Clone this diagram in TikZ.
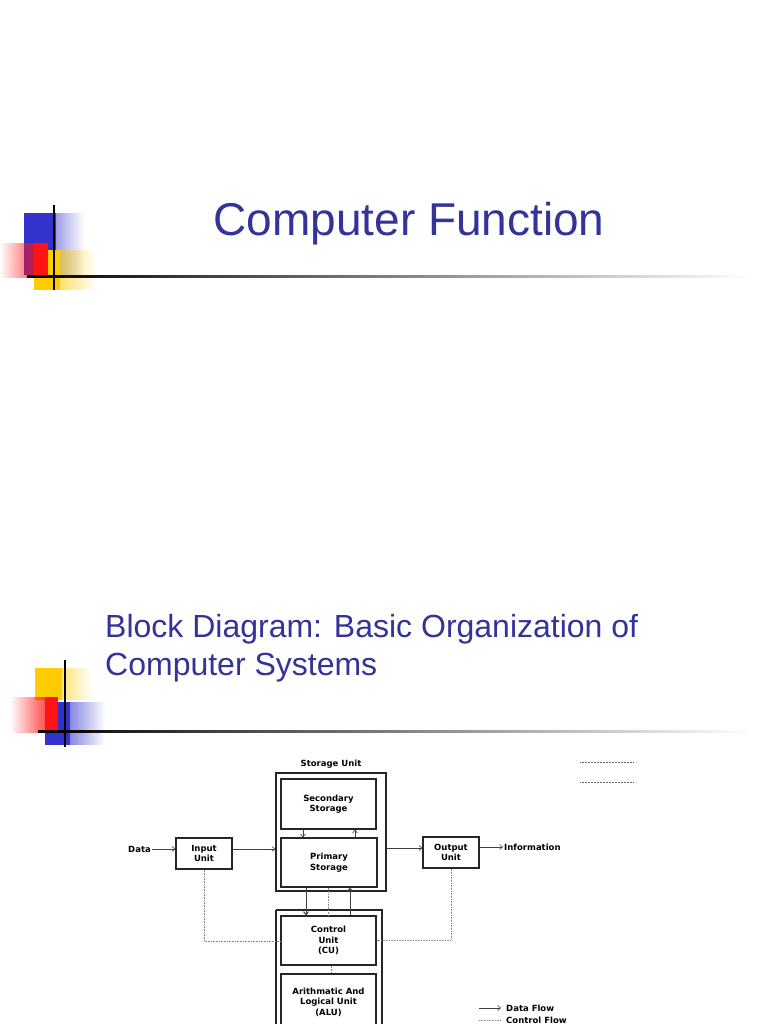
\documentclass[tikz,border=0pt]{standalone}
\usepackage{fontspec}
\setmainfont{Liberation Sans}
\newfontfamily\djvfont{DejaVu Sans}
\usetikzlibrary{arrows.meta,fadings}
\definecolor{ttl}{RGB}{51,51,153}
\definecolor{sqb}{RGB}{51,51,204}
\definecolor{sqr}{RGB}{255,20,20}
\definecolor{sqy}{RGB}{255,204,0}
\begin{document}
\begin{tikzpicture}[x=1pt,y=-1pt,
  blk/.style={draw=black!85,line width=1.2pt,align=center,font=\djvfont\bfseries\fontsize{8.5}{10.5}\selectfont,inner sep=0pt},
  lbl/.style={font=\djvfont\bfseries\fontsize{8.5}{10}\selectfont,inner sep=1pt},
  df/.style={draw=black!75,line width=0.6pt,-{Straight Barb[length=3pt,width=5pt]}},
  cf/.style={draw=black!45,line width=0.6pt,densely dotted}]
\useasboundingbox (0,0) rectangle (768,1024);
\fill[white] (0,0) rectangle (768,1024);
% slide 1 decoration
\fill[sqb,path fading=east] (24,213) rectangle (84,275);
\fill[sqb] (24,213) rectangle (56,275);
\fill[sqy,path fading=east] (34,250) rectangle (96,290);
\fill[sqy] (34,250) rectangle (60,290);
\fill[sqr,path fading=west] (0,243) rectangle (48,278);
\fill[sqr] (34,243) rectangle (48,278);
\fill[black,path fading=east] (27,274.5) rectangle (750,278);
\draw[black,line width=1.2pt] (54,205) -- (54,290);
\node[text=ttl,font=\fontsize{46}{50}\selectfont,anchor=base] (t1) at (409,236) {Computer Function};
% slide 2 decoration
\fill[sqy,path fading=east] (35,668) rectangle (92,700);
\fill[sqy] (35,668) rectangle (62,700);
\fill[sqb,path fading=east] (45,702) rectangle (105,745);
\fill[sqb] (45,702) rectangle (70,745);
\fill[sqr,path fading=west] (10,697) rectangle (58,733);
\fill[sqr] (45,697) rectangle (58,733);
\fill[black,path fading=east] (38,729.5) rectangle (750,733);
\draw[black,line width=1.2pt] (65,660) -- (65,747);
\node[text=ttl,font=\fontsize{32}{38}\selectfont,anchor=base west,align=left,inner sep=0pt] (t2) at (105,675) {Block Diagram: Basic Organization of\\Computer Systems};
% diagram
\node[lbl] (sul) at (331,764) {Storage Unit};
\node[blk,minimum width=110,minimum height=118] (su) at (331,832) {};
\node[blk,minimum width=95,minimum height=50] (sec) at (328.5,804) {Secondary\\Storage};
\node[blk,minimum width=96,minimum height=49] (pri) at (329,862.5) {Primary\\Storage};
\node[blk,minimum width=56,minimum height=31] (in) at (204,853.5) {Input\\Unit};
\node[blk,minimum width=56,minimum height=31] (out) at (451,852.5) {Output\\Unit};
\node[lbl,anchor=east] (data) at (152,849) {Data};
\node[lbl,anchor=west] (info) at (503,847) {Information};
\draw[blk] (276,910) -- (276,1030) (276,910) -- (382,910) -- (382,1030);
\node[blk,minimum width=95,minimum height=49] (cu) at (328.5,940.5) {Control\\Unit\\(CU)};
\node[blk,minimum width=95,minimum height=56] (alu) at (328.5,1002) {Arithmatic And\\Logical Unit\\(ALU)};
\coordinate (cul) at (cu.west |- 0,941);
\coordinate (cur) at (cu.east |- 0,940);
% data flow
\draw[df] (data.east) -- (in.west |- data.east);
\draw[df] (in.east |- 0,849) -- (su.west |- 0,849);
\draw[df] (su.east |- 0,848) -- (out.west |- 0,848);
\draw[df] (out.east |- info.west) -- (info.west);
\draw[df] (sec.south -| 303,0) -- (pri.north -| 303,0);
\draw[df] (pri.north -| 355,0) -- (sec.south -| 355,0);
\draw[df,line width=1pt] (pri.south -| 306,0) -- (cu.north -| 306,0);
\draw[df,line width=1pt] (cu.north -| 350,0) -- (pri.south -| 350,0);
% control flow
\draw[cf] (in.south) |- (cul);
\draw[cf] (out.south) |- (cur);
\draw[cf] (pri.south -| 328,0) -- (cu.north -| 328,0);
\draw[cf] (cu.south -| 331,0) -- (alu.north -| 331,0);
% legend
\coordinate (l1a) at (479,1008); \coordinate (l1b) at (501,1008);
\coordinate (l2a) at (479,1020); \coordinate (l2b) at (501,1020);
\draw[df] (l1a) -- (l1b);
\node[lbl,anchor=west] (ldf) at (505,1008) {Data Flow};
\draw[cf] (l2a) -- (l2b);
\node[lbl,anchor=west] (lcf) at (505,1020) {Control Flow};
\coordinate (d1a) at (580,762); \coordinate (d1b) at (634,762);
\coordinate (d2a) at (580,782); \coordinate (d2b) at (634,782);
\draw[black!60,line width=0.5pt,densely dotted] (d1a) -- (d1b) (d2a) -- (d2b);
\end{tikzpicture}
\end{document}
